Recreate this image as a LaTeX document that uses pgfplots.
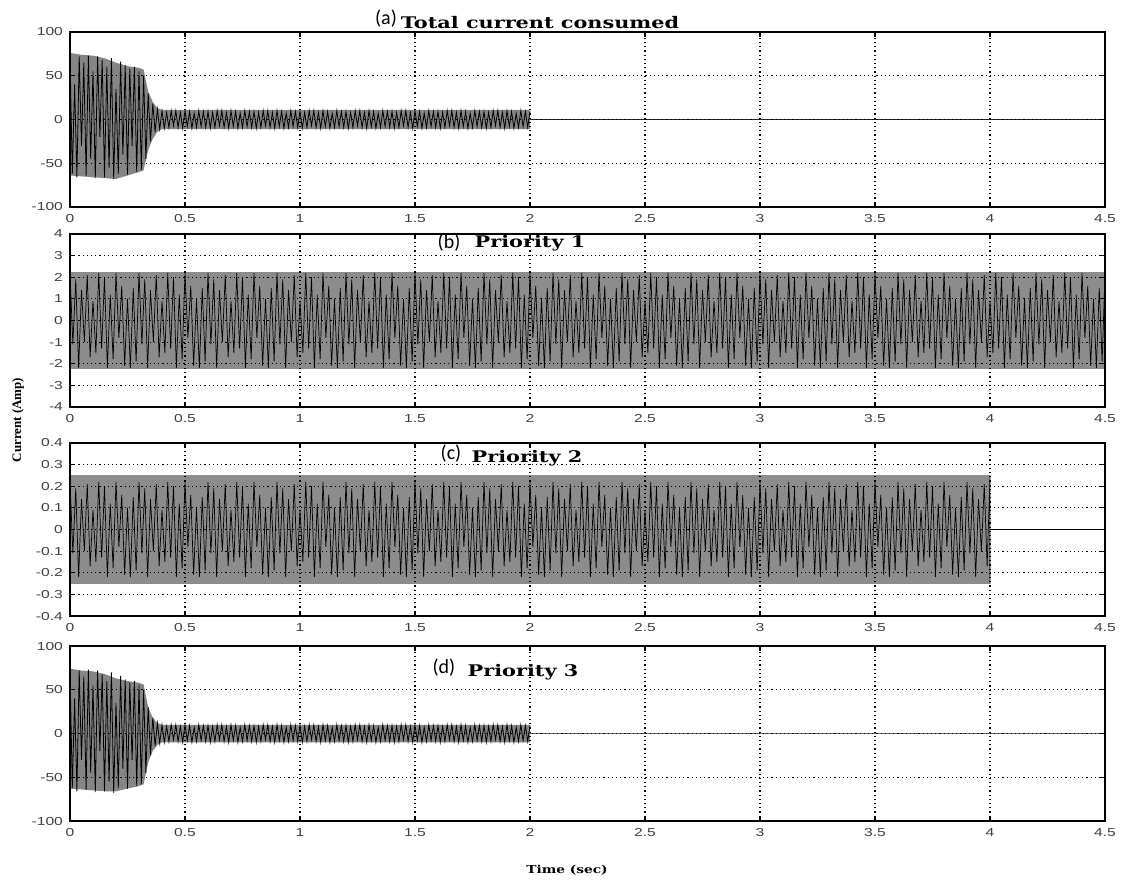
\documentclass[border=0pt]{standalone}
\usepackage{fontspec}
\setmainfont{Liberation Sans}
\newfontfamily\titlefont{DejaVu Serif}
\newfontfamily\labfont{Carlito}
\newfontfamily\serifb{Liberation Serif}
\usepackage{graphicx}
\usepackage{pgfplots}
\pgfplotsset{compat=1.18}
\usepackage{pgfplotstable}

\pgfplotstableread[row sep=\\]{
x y\\
0 74\\ 0.01 -62\\ 0.02 40\\ 0.03 -66\\ 0.04 72\\ 0.05 -30\\ 0.06 65\\ 0.07 -64\\ 0.08 73\\ 0.09 -45\\
0.10 55\\ 0.11 -67\\ 0.12 72\\ 0.13 -20\\ 0.14 68\\ 0.15 -66\\ 0.16 60\\ 0.17 -55\\ 0.18 70\\ 0.19 -68\\
0.20 35\\ 0.21 -62\\ 0.22 66\\ 0.23 -40\\ 0.24 62\\ 0.25 -63\\ 0.26 58\\ 0.27 -30\\ 0.28 60\\ 0.29 -60\\
0.30 55\\ 0.31 -58\\ 0.32 50\\ 0.33 -45\\ 0.34 30\\ 0.35 -25\\ 0.36 18\\ 0.37 -14\\ 0.38 12\\ 0.39 -11\\ 0.40 10\\
0.41 -10\\ 0.42 8\\ 0.43 -9\\ 0.44 10\\ 0.45 -7\\ 0.46 10\\ 0.47 -9\\ 0.48 8\\ 0.49 -10\\
0.5 10\\ 0.51 -8\\ 0.52 9\\ 0.53 -10\\ 0.54 7\\ 0.55 -9\\ 0.56 10\\ 0.57 -8\\ 0.58 9\\ 0.59 -9\\
0.6 9\\ 0.61 -10\\ 0.62 8\\ 0.63 -9\\ 0.64 10\\ 0.65 -7\\ 0.66 10\\ 0.67 -9\\ 0.68 8\\ 0.69 -10\\
0.7 10\\ 0.71 -8\\ 0.72 9\\ 0.73 -10\\ 0.74 7\\ 0.75 -9\\ 0.76 10\\ 0.77 -8\\ 0.78 9\\ 0.79 -9\\
0.8 9\\ 0.81 -10\\ 0.82 8\\ 0.83 -9\\ 0.84 10\\ 0.85 -7\\ 0.86 10\\ 0.87 -9\\ 0.88 8\\ 0.89 -10\\
0.9 10\\ 0.91 -8\\ 0.92 9\\ 0.93 -10\\ 0.94 7\\ 0.95 -9\\ 0.96 10\\ 0.97 -8\\ 0.98 9\\ 0.99 -9\\
1.0 9\\ 1.01 -10\\ 1.02 8\\ 1.03 -9\\ 1.04 10\\ 1.05 -7\\ 1.06 10\\ 1.07 -9\\ 1.08 8\\ 1.09 -10\\
1.1 10\\ 1.11 -8\\ 1.12 9\\ 1.13 -10\\ 1.14 7\\ 1.15 -9\\ 1.16 10\\ 1.17 -8\\ 1.18 9\\ 1.19 -9\\
1.2 9\\ 1.21 -10\\ 1.22 8\\ 1.23 -9\\ 1.24 10\\ 1.25 -7\\ 1.26 10\\ 1.27 -9\\ 1.28 8\\ 1.29 -10\\
1.3 10\\ 1.31 -8\\ 1.32 9\\ 1.33 -10\\ 1.34 7\\ 1.35 -9\\ 1.36 10\\ 1.37 -8\\ 1.38 9\\ 1.39 -9\\
1.4 9\\ 1.41 -10\\ 1.42 8\\ 1.43 -9\\ 1.44 10\\ 1.45 -7\\ 1.46 10\\ 1.47 -9\\ 1.48 8\\ 1.49 -10\\
1.5 10\\ 1.51 -8\\ 1.52 9\\ 1.53 -10\\ 1.54 7\\ 1.55 -9\\ 1.56 10\\ 1.57 -8\\ 1.58 9\\ 1.59 -9\\
1.6 9\\ 1.61 -10\\ 1.62 8\\ 1.63 -9\\ 1.64 10\\ 1.65 -7\\ 1.66 10\\ 1.67 -9\\ 1.68 8\\ 1.69 -10\\
1.7 10\\ 1.71 -8\\ 1.72 9\\ 1.73 -10\\ 1.74 7\\ 1.75 -9\\ 1.76 10\\ 1.77 -8\\ 1.78 9\\ 1.79 -9\\
1.8 9\\ 1.81 -10\\ 1.82 8\\ 1.83 -9\\ 1.84 10\\ 1.85 -7\\ 1.86 10\\ 1.87 -9\\ 1.88 8\\ 1.89 -10\\
1.9 10\\ 1.91 -8\\ 1.92 9\\ 1.93 -10\\ 1.94 7\\ 1.95 -9\\ 1.96 10\\ 1.97 -8\\ 1.98 9\\ 1.99 -9\\
2.0 9\\
}\zigA

\pgfplotstableread[row sep=\\]{
x y\\
0 2.2\\ 0.0125 -1.1\\ 0.025 1.9\\ 0.0375 -2.2\\ 0.05 1.4\\ 0.0625 -1.0\\ 0.075 2.1\\ 0.0875 -1.7\\
0.1 0.9\\ 0.1125 -1.5\\ 0.125 2.2\\ 0.1375 -1.3\\ 0.15 2.0\\ 0.1625 -2.2\\ 0.175 1.2\\ 0.1875 -1.8\\
0.2 2.2\\ 0.2125 -0.8\\ 0.225 1.6\\ 0.2375 -2.1\\ 0.25 1.0\\ 0.2625 -2.2\\ 0.275 1.5\\ 0.2875 -1.9\\
0.3 2.2\\ 0.3125 -1.1\\ 0.325 1.9\\ 0.3375 -2.2\\ 0.35 1.4\\ 0.3625 -1.0\\ 0.375 2.1\\ 0.3875 -1.7\\
0.4 0.9\\ 0.4125 -1.5\\ 0.425 2.2\\ 0.4375 -1.3\\ 0.45 2.0\\ 0.4625 -2.2\\ 0.475 1.2\\ 0.4875 -1.8\\
0.5 2.2\\ 0.5125 -0.8\\ 0.525 1.6\\ 0.5375 -2.1\\ 0.55 1.0\\ 0.5625 -2.2\\ 0.575 1.5\\ 0.5875 -1.9\\
0.6 2.2\\ 0.6125 -1.1\\ 0.625 1.9\\ 0.6375 -2.2\\ 0.65 1.4\\ 0.6625 -1.0\\ 0.675 2.1\\ 0.6875 -1.7\\
0.7 0.9\\ 0.7125 -1.5\\ 0.725 2.2\\ 0.7375 -1.3\\ 0.75 2.0\\ 0.7625 -2.2\\ 0.775 1.2\\ 0.7875 -1.8\\
0.8 2.2\\ 0.8125 -0.8\\ 0.825 1.6\\ 0.8375 -2.1\\ 0.85 1.0\\ 0.8625 -2.2\\ 0.875 1.5\\ 0.8875 -1.9\\
0.9 2.2\\ 0.9125 -1.1\\ 0.925 1.9\\ 0.9375 -2.2\\ 0.95 1.4\\ 0.9625 -1.0\\ 0.975 2.1\\ 0.9875 -1.7\\
1.0 0.9\\ 1.0125 -1.5\\ 1.025 2.2\\ 1.0375 -1.3\\ 1.05 2.0\\ 1.0625 -2.2\\ 1.075 1.2\\ 1.0875 -1.8\\
1.1 2.2\\ 1.1125 -0.8\\ 1.125 1.6\\ 1.1375 -2.1\\ 1.15 1.0\\ 1.1625 -2.2\\ 1.175 1.5\\ 1.1875 -1.9\\
1.2 2.2\\ 1.2125 -1.1\\ 1.225 1.9\\ 1.2375 -2.2\\ 1.25 1.4\\ 1.2625 -1.0\\ 1.275 2.1\\ 1.2875 -1.7\\
1.3 0.9\\ 1.3125 -1.5\\ 1.325 2.2\\ 1.3375 -1.3\\ 1.35 2.0\\ 1.3625 -2.2\\ 1.375 1.2\\ 1.3875 -1.8\\
1.4 2.2\\ 1.4125 -0.8\\ 1.425 1.6\\ 1.4375 -2.1\\ 1.45 1.0\\ 1.4625 -2.2\\ 1.475 1.5\\ 1.4875 -1.9\\
1.5 2.2\\ 1.5125 -1.1\\ 1.525 1.9\\ 1.5375 -2.2\\ 1.55 1.4\\ 1.5625 -1.0\\ 1.575 2.1\\ 1.5875 -1.7\\
1.6 0.9\\ 1.6125 -1.5\\ 1.625 2.2\\ 1.6375 -1.3\\ 1.65 2.0\\ 1.6625 -2.2\\ 1.675 1.2\\ 1.6875 -1.8\\
1.7 2.2\\ 1.7125 -0.8\\ 1.725 1.6\\ 1.7375 -2.1\\ 1.75 1.0\\ 1.7625 -2.2\\ 1.775 1.5\\ 1.7875 -1.9\\
1.8 2.2\\ 1.8125 -1.1\\ 1.825 1.9\\ 1.8375 -2.2\\ 1.85 1.4\\ 1.8625 -1.0\\ 1.875 2.1\\ 1.8875 -1.7\\
1.9 0.9\\ 1.9125 -1.5\\ 1.925 2.2\\ 1.9375 -1.3\\ 1.95 2.0\\ 1.9625 -2.2\\ 1.975 1.2\\ 1.9875 -1.8\\
2.0 2.2\\ 2.0125 -0.8\\ 2.025 1.6\\ 2.0375 -2.1\\ 2.05 1.0\\ 2.0625 -2.2\\ 2.075 1.5\\ 2.0875 -1.9\\
2.1 2.2\\ 2.1125 -1.1\\ 2.125 1.9\\ 2.1375 -2.2\\ 2.15 1.4\\ 2.1625 -1.0\\ 2.175 2.1\\ 2.1875 -1.7\\
2.2 0.9\\ 2.2125 -1.5\\ 2.225 2.2\\ 2.2375 -1.3\\ 2.25 2.0\\ 2.2625 -2.2\\ 2.275 1.2\\ 2.2875 -1.8\\
2.3 2.2\\ 2.3125 -0.8\\ 2.325 1.6\\ 2.3375 -2.1\\ 2.35 1.0\\ 2.3625 -2.2\\ 2.375 1.5\\ 2.3875 -1.9\\
2.4 2.2\\ 2.4125 -1.1\\ 2.425 1.9\\ 2.4375 -2.2\\ 2.45 1.4\\ 2.4625 -1.0\\ 2.475 2.1\\ 2.4875 -1.7\\
2.5 0.9\\ 2.5125 -1.5\\ 2.525 2.2\\ 2.5375 -1.3\\ 2.55 2.0\\ 2.5625 -2.2\\ 2.575 1.2\\ 2.5875 -1.8\\
2.6 2.2\\ 2.6125 -0.8\\ 2.625 1.6\\ 2.6375 -2.1\\ 2.65 1.0\\ 2.6625 -2.2\\ 2.675 1.5\\ 2.6875 -1.9\\
2.7 2.2\\ 2.7125 -1.1\\ 2.725 1.9\\ 2.7375 -2.2\\ 2.75 1.4\\ 2.7625 -1.0\\ 2.775 2.1\\ 2.7875 -1.7\\
2.8 0.9\\ 2.8125 -1.5\\ 2.825 2.2\\ 2.8375 -1.3\\ 2.85 2.0\\ 2.8625 -2.2\\ 2.875 1.2\\ 2.8875 -1.8\\
2.9 2.2\\ 2.9125 -0.8\\ 2.925 1.6\\ 2.9375 -2.1\\ 2.95 1.0\\ 2.9625 -2.2\\ 2.975 1.5\\ 2.9875 -1.9\\
3.0 2.2\\ 3.0125 -1.1\\ 3.025 1.9\\ 3.0375 -2.2\\ 3.05 1.4\\ 3.0625 -1.0\\ 3.075 2.1\\ 3.0875 -1.7\\
3.1 0.9\\ 3.1125 -1.5\\ 3.125 2.2\\ 3.1375 -1.3\\ 3.15 2.0\\ 3.1625 -2.2\\ 3.175 1.2\\ 3.1875 -1.8\\
3.2 2.2\\ 3.2125 -0.8\\ 3.225 1.6\\ 3.2375 -2.1\\ 3.25 1.0\\ 3.2625 -2.2\\ 3.275 1.5\\ 3.2875 -1.9\\
3.3 2.2\\ 3.3125 -1.1\\ 3.325 1.9\\ 3.3375 -2.2\\ 3.35 1.4\\ 3.3625 -1.0\\ 3.375 2.1\\ 3.3875 -1.7\\
3.4 0.9\\ 3.4125 -1.5\\ 3.425 2.2\\ 3.4375 -1.3\\ 3.45 2.0\\ 3.4625 -2.2\\ 3.475 1.2\\ 3.4875 -1.8\\
3.5 2.2\\ 3.5125 -0.8\\ 3.525 1.6\\ 3.5375 -2.1\\ 3.55 1.0\\ 3.5625 -2.2\\ 3.575 1.5\\ 3.5875 -1.9\\
3.6 2.2\\ 3.6125 -1.1\\ 3.625 1.9\\ 3.6375 -2.2\\ 3.65 1.4\\ 3.6625 -1.0\\ 3.675 2.1\\ 3.6875 -1.7\\
3.7 0.9\\ 3.7125 -1.5\\ 3.725 2.2\\ 3.7375 -1.3\\ 3.75 2.0\\ 3.7625 -2.2\\ 3.775 1.2\\ 3.7875 -1.8\\
3.8 2.2\\ 3.8125 -0.8\\ 3.825 1.6\\ 3.8375 -2.1\\ 3.85 1.0\\ 3.8625 -2.2\\ 3.875 1.5\\ 3.8875 -1.9\\
3.9 2.2\\ 3.9125 -1.1\\ 3.925 1.9\\ 3.9375 -2.2\\ 3.95 1.4\\ 3.9625 -1.0\\ 3.975 2.1\\ 3.9875 -1.7\\
4.0 0.9\\ 4.0125 -1.5\\ 4.025 2.2\\ 4.0375 -1.3\\ 4.05 2.0\\ 4.0625 -2.2\\ 4.075 1.2\\ 4.0875 -1.8\\
4.1 2.2\\ 4.1125 -0.8\\ 4.125 1.6\\ 4.1375 -2.1\\ 4.15 1.0\\ 4.1625 -2.2\\ 4.175 1.5\\ 4.1875 -1.9\\
4.2 2.2\\ 4.2125 -1.1\\ 4.225 1.9\\ 4.2375 -2.2\\ 4.25 1.4\\ 4.2625 -1.0\\ 4.275 2.1\\ 4.2875 -1.7\\
4.3 0.9\\ 4.3125 -1.5\\ 4.325 2.2\\ 4.3375 -1.3\\ 4.35 2.0\\ 4.3625 -2.2\\ 4.375 1.2\\ 4.3875 -1.8\\
4.4 2.2\\ 4.4125 -0.8\\ 4.425 1.6\\ 4.4375 -2.1\\ 4.45 1.0\\ 4.4625 -2.2\\ 4.475 1.5\\ 4.4875 -1.9\\
4.5 2.2\\
}\zigB

\pgfplotstableread[row sep=\\]{
x y\\
0 0.22\\ 0.0125 -0.11\\ 0.025 0.19\\ 0.0375 -0.22\\ 0.05 0.14\\ 0.0625 -0.10\\ 0.075 0.21\\ 0.0875 -0.17\\
0.1 0.09\\ 0.1125 -0.15\\ 0.125 0.22\\ 0.1375 -0.13\\ 0.15 0.20\\ 0.1625 -0.22\\ 0.175 0.12\\ 0.1875 -0.18\\
0.2 0.22\\ 0.2125 -0.08\\ 0.225 0.16\\ 0.2375 -0.21\\ 0.25 0.10\\ 0.2625 -0.22\\ 0.275 0.15\\ 0.2875 -0.19\\
0.3 0.22\\ 0.3125 -0.11\\ 0.325 0.19\\ 0.3375 -0.22\\ 0.35 0.14\\ 0.3625 -0.10\\ 0.375 0.21\\ 0.3875 -0.17\\
0.4 0.09\\ 0.4125 -0.15\\ 0.425 0.22\\ 0.4375 -0.13\\ 0.45 0.20\\ 0.4625 -0.22\\ 0.475 0.12\\ 0.4875 -0.18\\
0.5 0.22\\ 0.5125 -0.08\\ 0.525 0.16\\ 0.5375 -0.21\\ 0.55 0.10\\ 0.5625 -0.22\\ 0.575 0.15\\ 0.5875 -0.19\\
0.6 0.22\\ 0.6125 -0.11\\ 0.625 0.19\\ 0.6375 -0.22\\ 0.65 0.14\\ 0.6625 -0.10\\ 0.675 0.21\\ 0.6875 -0.17\\
0.7 0.09\\ 0.7125 -0.15\\ 0.725 0.22\\ 0.7375 -0.13\\ 0.75 0.20\\ 0.7625 -0.22\\ 0.775 0.12\\ 0.7875 -0.18\\
0.8 0.22\\ 0.8125 -0.08\\ 0.825 0.16\\ 0.8375 -0.21\\ 0.85 0.10\\ 0.8625 -0.22\\ 0.875 0.15\\ 0.8875 -0.19\\
0.9 0.22\\ 0.9125 -0.11\\ 0.925 0.19\\ 0.9375 -0.22\\ 0.95 0.14\\ 0.9625 -0.10\\ 0.975 0.21\\ 0.9875 -0.17\\
1.0 0.09\\ 1.0125 -0.15\\ 1.025 0.22\\ 1.0375 -0.13\\ 1.05 0.20\\ 1.0625 -0.22\\ 1.075 0.12\\ 1.0875 -0.18\\
1.1 0.22\\ 1.1125 -0.08\\ 1.125 0.16\\ 1.1375 -0.21\\ 1.15 0.10\\ 1.1625 -0.22\\ 1.175 0.15\\ 1.1875 -0.19\\
1.2 0.22\\ 1.2125 -0.11\\ 1.225 0.19\\ 1.2375 -0.22\\ 1.25 0.14\\ 1.2625 -0.10\\ 1.275 0.21\\ 1.2875 -0.17\\
1.3 0.09\\ 1.3125 -0.15\\ 1.325 0.22\\ 1.3375 -0.13\\ 1.35 0.20\\ 1.3625 -0.22\\ 1.375 0.12\\ 1.3875 -0.18\\
1.4 0.22\\ 1.4125 -0.08\\ 1.425 0.16\\ 1.4375 -0.21\\ 1.45 0.10\\ 1.4625 -0.22\\ 1.475 0.15\\ 1.4875 -0.19\\
1.5 0.22\\ 1.5125 -0.11\\ 1.525 0.19\\ 1.5375 -0.22\\ 1.55 0.14\\ 1.5625 -0.10\\ 1.575 0.21\\ 1.5875 -0.17\\
1.6 0.09\\ 1.6125 -0.15\\ 1.625 0.22\\ 1.6375 -0.13\\ 1.65 0.20\\ 1.6625 -0.22\\ 1.675 0.12\\ 1.6875 -0.18\\
1.7 0.22\\ 1.7125 -0.08\\ 1.725 0.16\\ 1.7375 -0.21\\ 1.75 0.10\\ 1.7625 -0.22\\ 1.775 0.15\\ 1.7875 -0.19\\
1.8 0.22\\ 1.8125 -0.11\\ 1.825 0.19\\ 1.8375 -0.22\\ 1.85 0.14\\ 1.8625 -0.10\\ 1.875 0.21\\ 1.8875 -0.17\\
1.9 0.09\\ 1.9125 -0.15\\ 1.925 0.22\\ 1.9375 -0.13\\ 1.95 0.20\\ 1.9625 -0.22\\ 1.975 0.12\\ 1.9875 -0.18\\
2.0 0.22\\ 2.0125 -0.08\\ 2.025 0.16\\ 2.0375 -0.21\\ 2.05 0.10\\ 2.0625 -0.22\\ 2.075 0.15\\ 2.0875 -0.19\\
2.1 0.22\\ 2.1125 -0.11\\ 2.125 0.19\\ 2.1375 -0.22\\ 2.15 0.14\\ 2.1625 -0.10\\ 2.175 0.21\\ 2.1875 -0.17\\
2.2 0.09\\ 2.2125 -0.15\\ 2.225 0.22\\ 2.2375 -0.13\\ 2.25 0.20\\ 2.2625 -0.22\\ 2.275 0.12\\ 2.2875 -0.18\\
2.3 0.22\\ 2.3125 -0.08\\ 2.325 0.16\\ 2.3375 -0.21\\ 2.35 0.10\\ 2.3625 -0.22\\ 2.375 0.15\\ 2.3875 -0.19\\
2.4 0.22\\ 2.4125 -0.11\\ 2.425 0.19\\ 2.4375 -0.22\\ 2.45 0.14\\ 2.4625 -0.10\\ 2.475 0.21\\ 2.4875 -0.17\\
2.5 0.09\\ 2.5125 -0.15\\ 2.525 0.22\\ 2.5375 -0.13\\ 2.55 0.20\\ 2.5625 -0.22\\ 2.575 0.12\\ 2.5875 -0.18\\
2.6 0.22\\ 2.6125 -0.08\\ 2.625 0.16\\ 2.6375 -0.21\\ 2.65 0.10\\ 2.6625 -0.22\\ 2.675 0.15\\ 2.6875 -0.19\\
2.7 0.22\\ 2.7125 -0.11\\ 2.725 0.19\\ 2.7375 -0.22\\ 2.75 0.14\\ 2.7625 -0.10\\ 2.775 0.21\\ 2.7875 -0.17\\
2.8 0.09\\ 2.8125 -0.15\\ 2.825 0.22\\ 2.8375 -0.13\\ 2.85 0.20\\ 2.8625 -0.22\\ 2.875 0.12\\ 2.8875 -0.18\\
2.9 0.22\\ 2.9125 -0.08\\ 2.925 0.16\\ 2.9375 -0.21\\ 2.95 0.10\\ 2.9625 -0.22\\ 2.975 0.15\\ 2.9875 -0.19\\
3.0 0.22\\ 3.0125 -0.11\\ 3.025 0.19\\ 3.0375 -0.22\\ 3.05 0.14\\ 3.0625 -0.10\\ 3.075 0.21\\ 3.0875 -0.17\\
3.1 0.09\\ 3.1125 -0.15\\ 3.125 0.22\\ 3.1375 -0.13\\ 3.15 0.20\\ 3.1625 -0.22\\ 3.175 0.12\\ 3.1875 -0.18\\
3.2 0.22\\ 3.2125 -0.08\\ 3.225 0.16\\ 3.2375 -0.21\\ 3.25 0.10\\ 3.2625 -0.22\\ 3.275 0.15\\ 3.2875 -0.19\\
3.3 0.22\\ 3.3125 -0.11\\ 3.325 0.19\\ 3.3375 -0.22\\ 3.35 0.14\\ 3.3625 -0.10\\ 3.375 0.21\\ 3.3875 -0.17\\
3.4 0.09\\ 3.4125 -0.15\\ 3.425 0.22\\ 3.4375 -0.13\\ 3.45 0.20\\ 3.4625 -0.22\\ 3.475 0.12\\ 3.4875 -0.18\\
3.5 0.22\\ 3.5125 -0.08\\ 3.525 0.16\\ 3.5375 -0.21\\ 3.55 0.10\\ 3.5625 -0.22\\ 3.575 0.15\\ 3.5875 -0.19\\
3.6 0.22\\ 3.6125 -0.11\\ 3.625 0.19\\ 3.6375 -0.22\\ 3.65 0.14\\ 3.6625 -0.10\\ 3.675 0.21\\ 3.6875 -0.17\\
3.7 0.09\\ 3.7125 -0.15\\ 3.725 0.22\\ 3.7375 -0.13\\ 3.75 0.20\\ 3.7625 -0.22\\ 3.775 0.12\\ 3.7875 -0.18\\
3.8 0.22\\ 3.8125 -0.08\\ 3.825 0.16\\ 3.8375 -0.21\\ 3.85 0.10\\ 3.8625 -0.22\\ 3.875 0.15\\ 3.8875 -0.19\\
3.9 0.22\\ 3.9125 -0.11\\ 3.925 0.19\\ 3.9375 -0.22\\ 3.95 0.14\\ 3.9625 -0.10\\ 3.975 0.21\\ 3.9875 -0.17\\
4.0 0.25\\ 4.0 -0.25\\ 4.0 0\\ 4.5 0\\
}\zigC

\pgfplotsset{
  panel/.style={
    scale only axis, width=517.5pt, xmin=0, xmax=4.5,
    xtick={0,0.5,1,1.5,2,2.5,3,3.5,4,4.5},
    grid=major,
    major grid style={black, line width=0.6pt, dash pattern=on 0.6pt off 1.5pt},
    axis on top,
    axis line style={black, line width=0.6pt},
    tick align=inside, tick pos=both, major tick length=2.5pt,
    tick style={black, line width=0.6pt},
    tick label style={font=\fontsize{5.8}{7}\selectfont, text=black!75},
    xticklabel={\scalebox{1.35}[1]{\pgfmathprintnumber[assume math mode=true]{\tick}}},
    yticklabel={\scalebox{1.35}[1]{\pgfmathprintnumber[assume math mode=true]{\tick}}},
    anchor=north west,
  }
}
\newcommand\ttl[1]{\scalebox{1.3}[1]{\titlefont\bfseries\fontsize{8}{9}\selectfont #1}}
\newcommand\tag[1]{{\labfont\fontsize{10}{11}\selectfont #1}}

\begin{document}
\begin{tikzpicture}
\path[use as bounding box] (0,0) rectangle (561pt,-441pt);

% (a)
\begin{axis}[panel, at={(35pt,-16pt)}, height=87.5pt, ymin=-100, ymax=100,
  ytick={-100,-50,0,50,100}]
\addplot[fill=black!48, draw=none] coordinates {(0,76)(0.05,74)(0.1,73)(0.15,70)(0.2,65)(0.25,61)(0.3,59)(0.32,57)(0.34,32)(0.36,20)(0.38,13)(0.4,11)(2.0,11)(2.0,-11)(0.4,-11)(0.38,-14)(0.36,-22)(0.34,-35)(0.32,-58)(0.3,-60)(0.25,-64)(0.2,-68)(0.15,-67)(0.1,-66)(0.05,-65)(0,-64)} -- cycle;
\addplot[black, line width=0.4pt] table[x=x,y=y] {\zigA};
\addplot[black!85, line width=0.8pt] coordinates {(2.0,0)(4.5,0)};
\end{axis}

% (b)
\begin{axis}[panel, at={(35pt,-117pt)}, height=86.5pt, ymin=-4, ymax=4,
  ytick={-4,-3,-2,-1,0,1,2,3,4}]
\addplot[fill=black!45, draw=none] coordinates {(0,2.25)(4.5,2.25)(4.5,-2.25)(0,-2.25)} -- cycle;
\addplot[black, line width=0.35pt] table[x=x,y=y] {\zigB};
\end{axis}

% (c)
\begin{axis}[panel, at={(35pt,-221.5pt)}, height=86.5pt, ymin=-0.4, ymax=0.4,
  ytick={-0.4,-0.3,-0.2,-0.1,0,0.1,0.2,0.3,0.4}]
\addplot[fill=black!45, draw=none] coordinates {(0,0.25)(4.0,0.25)(4.0,-0.25)(0,-0.25)} -- cycle;
\addplot[black, line width=0.35pt] table[x=x,y=y] {\zigC};
\end{axis}

% (d)
\begin{axis}[panel, at={(35pt,-323pt)}, height=87.5pt, ymin=-100, ymax=100,
  ytick={-100,-50,0,50,100}]
\addplot[fill=black!48, draw=none] coordinates {(0,74)(0.05,72)(0.1,71)(0.15,68)(0.2,63)(0.25,60)(0.3,58)(0.32,56)(0.34,30)(0.36,18)(0.38,12)(0.4,10)(2.0,10)(2.0,-10)(0.4,-10)(0.38,-13)(0.36,-20)(0.34,-33)(0.32,-58)(0.3,-60)(0.25,-63)(0.2,-66)(0.15,-66)(0.1,-65)(0.05,-64)(0,-63)} -- cycle;
\addplot[black, line width=0.4pt] table[x=x,y=y] {\zigA};
\addplot[black!60, line width=0.35pt] coordinates {(2.0,0)(4.5,0)};
\end{axis}

% titles
\node[anchor=base] at (193pt,-12.5pt) {\tag{(a)}};
\node[anchor=base] at (270pt,-14.5pt) {\ttl{Total current consumed}};
\node[anchor=base] at (224.5pt,-124pt) {\tag{(b)}};
\node[anchor=base] at (265pt,-123.5pt) {\ttl{Priority 1}};
\node[anchor=base] at (225.5pt,-229.5pt) {\tag{(c)}};
\node[anchor=base] at (263.5pt,-231pt) {\ttl{Priority 2}};
\node[anchor=base] at (222pt,-336.5pt) {\tag{(d)}};
\node[anchor=base] at (261.5pt,-338pt) {\ttl{Priority 3}};

% axis labels
\node[rotate=90] at (9pt,-210pt) {\serifb\bfseries\fontsize{6.5}{7}\selectfont Current (Amp)};
\node at (283.5pt,-435pt) {\scalebox{1.25}[1]{\titlefont\bfseries\fontsize{5.5}{6}\selectfont Time (sec)}};
\end{tikzpicture}
\end{document}
